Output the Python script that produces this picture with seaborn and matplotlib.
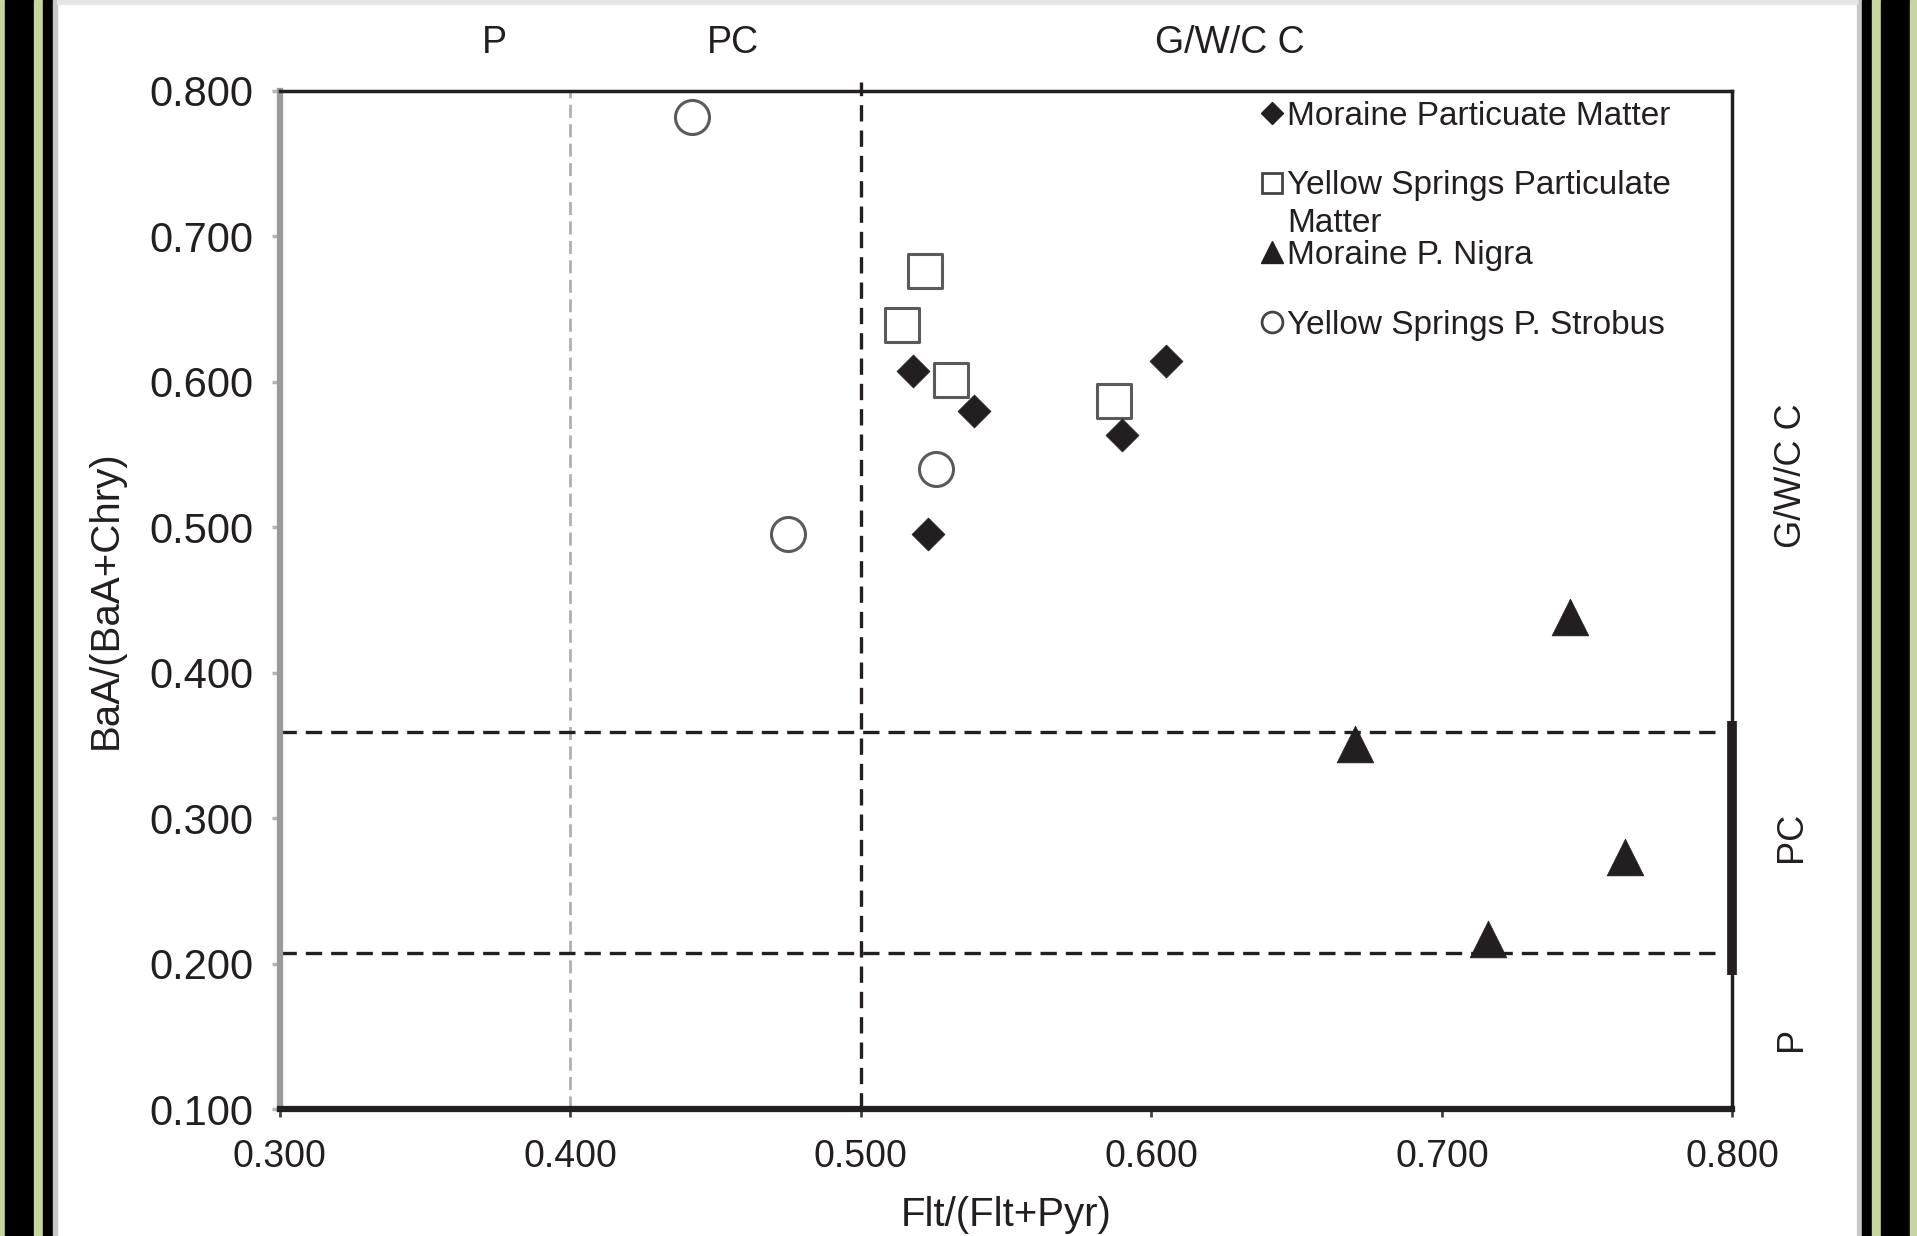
import matplotlib
matplotlib.use("Agg")
import matplotlib.pyplot as plt
import seaborn as sns
from matplotlib.lines import Line2D
from matplotlib.patches import Rectangle

# ---------------- DATA ----------------
moraine_pm_x = [0.518, 0.539, 0.523, 0.590, 0.605]
moraine_pm_y = [0.607, 0.580, 0.495, 0.563, 0.614]

ys_pm_x = [0.522, 0.514, 0.531, 0.587]
ys_pm_y = [0.676, 0.639, 0.601, 0.587]

nigra_x = [0.744, 0.670, 0.763, 0.716]
nigra_y = [0.438, 0.351, 0.273, 0.217]

strobus_x = [0.442, 0.475, 0.526]
strobus_y = [0.782, 0.495, 0.540]

series_labels = ["Moraine Particuate Matter",
                 "Yellow Springs Particulate",
                 "Moraine P. Nigra",
                 "Yellow Springs P. Strobus"]
label_wrap = "Matter"   # second line of the Yellow Springs PM label

x_ticks = [0.3, 0.4, 0.5, 0.6, 0.7, 0.8]
y_ticks = [0.1, 0.2, 0.3, 0.4, 0.5, 0.6, 0.7, 0.8]

flt_limits = [0.4, 0.5]          # P / PC / G/W/C C boundaries on x
baa_limits = [0.207, 0.359]      # P / PC / G/W/C C boundaries on y
pc_band = [0.192, 0.367]

top_zones = ["P", "PC", "G/W/C C"]
top_zone_x = [0.374, 0.456, 0.627]
right_zones = ["G/W/C C", "PC", "P"]
right_zone_y = [0.535, 0.287, 0.148]

# ---------------- STYLE ----------------
sns.set_style("white")
plt.rcParams["font.family"] = ["Liberation Sans", "DejaVu Sans"]
ink = "#231f20"
plt.rcParams["text.color"] = ink

fig = plt.figure(figsize=(19.17, 12.36), dpi=100)
fig.patch.set_facecolor("white")

# picture frame on both sides
W = 1917.0
green = "#c5d69e"
for x0, x1, c in [(0, 5, green), (5, 34, "black"), (34, 43, green), (43, 53, "black"),
                  (53, 57, "#c8c8c8"),
                  (1857, 1862, "#c8c8c8"), (1862, 1872, "black"), (1872, 1881, green),
                  (1881, 1910, "black"), (1910, 1917, green)]:
    fig.patches.append(Rectangle((x0 / W, 0), (x1 - x0) / W, 1, transform=fig.transFigure,
                                 color=c, zorder=0))
fig.patches.append(Rectangle((57 / W, 1 - 4 / 1236), 1800 / W, 4 / 1236, transform=fig.transFigure,
                             color="#e6e6e6", zorder=0))

ax = fig.add_axes([0.146, 0.1027, 0.7577, 0.824])
ax.set_facecolor("white")

# ---------------- ZONE LINES ----------------
ax.vlines(flt_limits[0], 0.1, 0.8, color="#b0b0b0", lw=2.0, linestyles=[(0, (4.7, 2.3))], zorder=1)
ax.vlines(flt_limits[1], 0.1, 0.806, color=ink, lw=2.4, linestyles=[(0, (4.9, 2.7))],
          zorder=1, clip_on=False)
for yv in baa_limits:
    ax.hlines(yv, 0.3, 0.797, color=ink, lw=2.4, linestyles=[(0, (4.9, 2.7))], zorder=1)

# ---------------- POINTS ----------------
sns.scatterplot(x=moraine_pm_x, y=moraine_pm_y, marker="D", s=282, color=ink,
                edgecolor=ink, linewidth=0.5, ax=ax, zorder=4)
sns.scatterplot(x=ys_pm_x, y=ys_pm_y, marker="s", s=600, color="white",
                edgecolor="#5a5a5a", linewidth=2.2, ax=ax, zorder=3)
sns.scatterplot(x=nigra_x, y=nigra_y, marker="^", s=700, color=ink,
                edgecolor=ink, linewidth=0.5, ax=ax, zorder=3)
sns.scatterplot(x=strobus_x, y=strobus_y, marker="o", s=600, color="white",
                edgecolor="#5a5a5a", linewidth=2.2, ax=ax, zorder=3)

# ---------------- AXES ----------------
ax.set_xlim(0.3, 0.8)
ax.set_ylim(0.1, 0.8)
ax.set_xticks(x_ticks)
ax.set_yticks(y_ticks)
ax.set_xticklabels([f"{v:.3f}" for v in x_ticks], fontsize=27, color=ink)
ax.set_yticklabels([f"{v:.3f}" for v in y_ticks], fontsize=30, color=ink)
ax.tick_params(axis="x", direction="out", length=6, width=2, color="#444444", pad=15.5, bottom=True)
ax.tick_params(axis="y", direction="out", length=6, width=2.5, color="#b5b5b5", pad=13, left=True)

ax.spines["left"].set_color("#9a9a9a")
ax.spines["left"].set_linewidth(4.5)
ax.spines["bottom"].set_color(ink)
ax.spines["bottom"].set_linewidth(4.5)
ax.spines["top"].set_color(ink)
ax.spines["top"].set_linewidth(2.5)
ax.spines["right"].set_color(ink)
ax.spines["right"].set_linewidth(2.5)

ax.vlines(0.8, pc_band[0], pc_band[1], color=ink, lw=7, zorder=5, clip_on=False)

ax.set_xlabel("Flt/(Flt+Pyr)", fontsize=29, color=ink, labelpad=15)
ax.set_ylabel("BaA/(BaA+Chry)", fontsize=29, color=ink, labelpad=18)

# zone names
for name, xv in zip(top_zones, top_zone_x):
    ax.text(xv, 1.047, name, transform=ax.get_xaxis_transform(), ha="center", va="center",
            fontsize=27, color=ink)
for name, yv in zip(right_zones, right_zone_y):
    ax.text(1.0406, yv, name, transform=ax.get_yaxis_transform(), ha="center", va="center",
            rotation=90, fontsize=26, color=ink)

# ---------------- LEGEND ----------------
handles = [
    Line2D([], [], ls="none", marker="D", markersize=11, color=ink, markeredgecolor=ink),
    Line2D([], [], ls="none", marker="s", markersize=15, markerfacecolor="white",
           markeredgecolor="#444444", markeredgewidth=2),
    Line2D([], [], ls="none", marker="^", markersize=16, color=ink, markeredgecolor=ink),
    Line2D([], [], ls="none", marker="o", markersize=15, markerfacecolor="white",
           markeredgecolor="#444444", markeredgewidth=2),
]
leg = ax.legend(handles, series_labels, loc="upper left", bbox_to_anchor=(0.674, 0.990),
                frameon=False, fontsize=24, handlelength=0.8, handletextpad=0.05,
                labelspacing=1.16, borderpad=0, borderaxespad=0)
for t in leg.get_texts():
    t.set_color(ink)
# wrapped second line, drawn after the legend so it follows its layout
ax.annotate(label_wrap, xy=(0, 0), xycoords=leg.get_texts()[1], xytext=(0, -5),
            textcoords="offset points", ha="left", va="top", fontsize=24, color=ink,
            zorder=10)

fig.savefig("out.png", dpi=100, facecolor="white")
